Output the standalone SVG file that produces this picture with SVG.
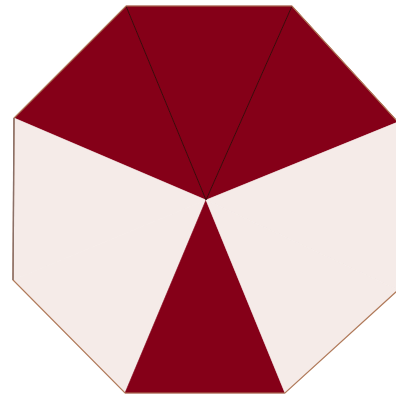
<svg xmlns="http://www.w3.org/2000/svg" width="396" height="399" viewBox="0 0 396 399">
<style>
.d{fill:#850018;stroke:#850018;stroke-width:0.6}
.l{fill:#f5ebe8;stroke:#f5ebe8;stroke-width:0.6}
.sp{stroke:#3a0a0a;stroke-width:1;fill:none}
.o{fill:none;stroke:#b07a5a;stroke-width:1.2}
.ol{fill:none;stroke:#8a7068;stroke-width:1.4}
</style>
<rect width="396" height="399" fill="#ffffff"/>
<g id="sectors">
<polygon class="d" points="206,200 126,6 292,6"/>
<polygon class="d" points="206,200 292,6 398,122"/>
<polygon class="d" points="206,200 14,118 126,6"/>
<polygon class="l" points="206,200 14,118 13,280"/>
<polygon class="l" points="206,200 13,280 125,393"/>
<polygon class="d" points="206,200 125,393 285,393"/>
<polygon class="l" points="206,200 398,122 398,290"/>
<polygon class="l" points="206,200 398,290 285,393"/>
</g>
<g id="connectors">
<line class="sp" x1="206" y1="200" x2="126" y2="6"/>
<line class="sp" x1="206" y1="200" x2="292" y2="6"/>
<polygon class="o" points="126,6 292,6 398,122 398,290 285,393 125,393 13,280 14,118"/>
<line class="ol" x1="14" y1="118" x2="13" y2="280"/>
</g>
</svg>
